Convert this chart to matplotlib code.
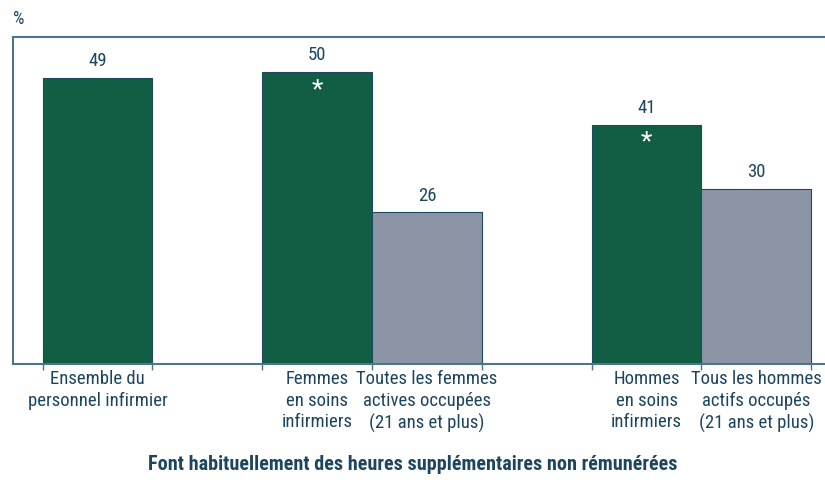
import matplotlib
matplotlib.use('Agg')
import matplotlib.pyplot as plt

# données
categories = ['Ensemble du\npersonnel infirmier',
              'Femmes\nen soins\ninfirmiers',
              'Toutes les femmes\nactives occupées\n(21 ans et plus)',
              'Hommes\nen soins\ninfirmiers',
              'Tous les hommes\nactifs occupés\n(21 ans et plus)']
values = [49, 50, 26, 41, 30]
positions = [0.5, 2.5, 3.5, 5.5, 6.5]
significant = [False, True, False, True, False]
colors = ['#115e44', '#115e44', '#8c95a5', '#115e44', '#8c95a5']

plt.rcParams['font.family'] = ['Roboto Condensed', 'DejaVu Sans']
txt = '#1e4560'
spine = '#4d7585'

fig = plt.figure(figsize=(8.25, 4.8), dpi=100)
ax = fig.add_axes([13 / 825, 1 - 364 / 480, 1 - 13 / 825, (364 - 37) / 480])

ax.bar(positions, values, width=1, color=colors, edgecolor='#1d4a5c', linewidth=0.8)

for x, v, s in zip(positions, values, significant):
    ax.text(x, v + 1.3, str(v), ha='center', va='bottom', fontsize=13.5, color=txt)
    if s:
        ax.text(x, v - 1.0, '*', ha='center', va='top', fontsize=19, color='white')

for x, c in zip(positions, categories):
    ax.text(x, -1.0, c, ha='center', va='top', fontsize=13.5, color=txt, linespacing=1.27)

ax.set_xlim(-0.27, 7.125)
ax.set_ylim(0, 56)
ax.set_xticks(range(8))
ax.set_xticklabels([])
ax.set_yticks([])
ax.tick_params(axis='x', direction='out', length=4, color=spine, width=1)
for side in ['left', 'top', 'bottom']:
    ax.spines[side].set_color(spine)
    ax.spines[side].set_linewidth(1.5)
ax.spines['right'].set_visible(False)

fig.text(13 / 825, 1 - 19 / 480, '%', ha='left', va='center', fontsize=13, color=txt)
fig.text(0.5, 1 - 465 / 480, 'Font habituellement des heures supplémentaires non rémunérées',
         ha='center', va='center', fontsize=14.5, fontweight='bold', color=txt)

fig.savefig('out.png', dpi=100)
